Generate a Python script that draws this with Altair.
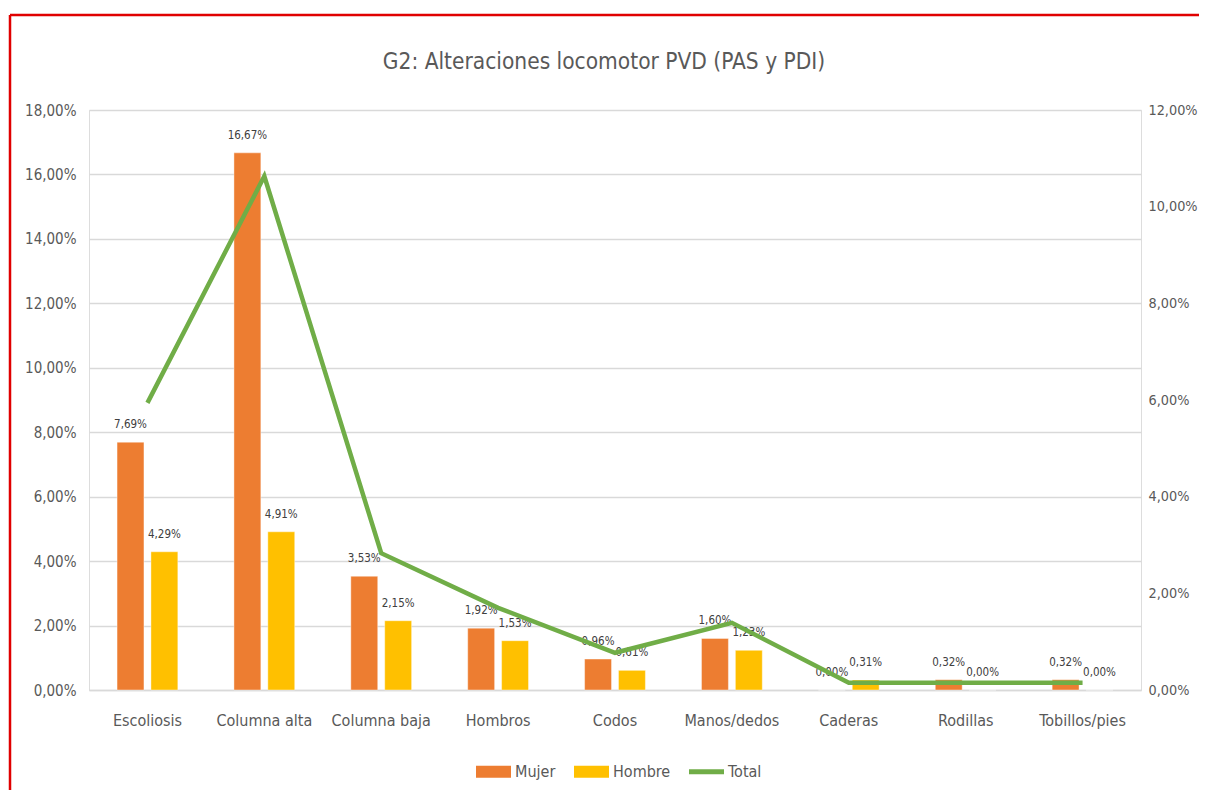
import altair as alt
import pandas as pd

categories = ["Escoliosis", "Columna alta", "Columna baja", "Hombros", "Codos",
              "Manos/dedos", "Caderas", "Rodillas", "Tobillos/pies"]
mujer = [7.69, 16.67, 3.53, 1.92, 0.96, 1.60, 0.00, 0.32, 0.32]
hombre = [4.29, 4.91, 2.15, 1.53, 0.61, 1.23, 0.31, 0.00, 0.00]
total = [5.94, 10.63, 2.83, 1.70, 0.77, 1.39, 0.15, 0.15, 0.15]

series = ["Mujer", "Hombre", "Total"]
colors = ["#ED7D31", "#FFC000", "#70AD47"]
title_text = "G2: Alteraciones locomotor PVD (PAS y PDI)"

FONT = "Liberation Sans Narrow, DejaVu Sans Condensed, sans-serif"
GREY = "#595959"

rows = []
for i, c in enumerate(categories):
    rows.append({"cat": c, "serie": "Mujer", "value": mujer[i]})
    rows.append({"cat": c, "serie": "Hombre", "value": hombre[i]})
bars_df = pd.DataFrame(rows)
total_df = pd.DataFrame({"cat": categories, "serie": "Total", "value": total})

pct = "replace(format(datum.value, '.2f'), '.', ',') + '%'"

xenc = alt.X("cat:N", sort=categories, title=None,
             scale=alt.Scale(paddingInner=0.48, paddingOuter=0.24),
             axis=alt.Axis(labelAngle=0, labelFontSize=16, labelColor=GREY, labelFont=FONT,
                           ticks=False, labelPadding=22, domainColor="#D9D9D9", domainWidth=1.5))

legend = alt.Legend(
    title=None, orient="none", direction="horizontal", legendX=387, legendY=644,
    labelFontSize=16, labelColor=GREY, labelFont=FONT, columnPadding=18, labelOffset=4,
    symbolSize=1225,
    symbolType=alt.ExprRef("datum.value === 'Total' ? 'M-1,-0.14H1V0.14H-1Z' : 'M-1,-0.34H1V0.34H-1Z'"),
    symbolFillColor=alt.ExprRef("scale('color', datum.value)"),
    symbolStrokeWidth=0,
    symbolOpacity=1,
)
color = alt.Color("serie:N", scale=alt.Scale(domain=series, range=colors), legend=legend)

yleft = alt.Y("value:Q", title=None,
              scale=alt.Scale(domain=[0, 18], nice=False),
              axis=alt.Axis(values=list(range(0, 19, 2)), labelExpr=pct, labelFontSize=15,
                            labelColor=GREY, labelFont=FONT, ticks=False, domain=False,
                            labelPadding=13, gridColor="#D9D9D9", gridWidth=1.3))

bars = alt.Chart(bars_df).mark_bar(stroke="white", strokeOpacity=0.4, strokeWidth=1).encode(
    x=xenc,
    xOffset=alt.XOffset("serie:N", sort=["Mujer", "Hombre"],
                        scale=alt.Scale(paddingInner=0.206, paddingOuter=0)),
    y=yleft,
    color=color,
)

labels = alt.Chart(bars_df).transform_calculate(lbl=pct).mark_text(
    fontSize=11.5, font=FONT, color="#404040", baseline="alphabetic", dy=-14
).encode(
    x=alt.X("cat:N", sort=categories),
    xOffset=alt.XOffset("serie:N", sort=["Mujer", "Hombre"]),
    y=alt.Y("value:Q"),
    text="lbl:N",
)

border_df = pd.DataFrame({"k": [0]})
top_border = alt.Chart(border_df).mark_rule(color="#E00000", strokeWidth=2.5).encode(
    x=alt.value(-79), x2=alt.value(1200), y=alt.value(-95))
left_border = alt.Chart(border_df).mark_rule(color="#E00000", strokeWidth=2.5).encode(
    x=alt.value(-79), y=alt.value(-95), y2=alt.value(700))
title_mark = alt.Chart(pd.DataFrame({"t": [title_text]})).mark_text(
    fontSize=22.5, font=FONT, color=GREY, align="center", baseline="middle"
).encode(x=alt.value(515), y=alt.value(-48), text="t:N")

left_layer = alt.layer(bars, labels, top_border, left_border, title_mark)

line = alt.Chart(total_df).mark_line(strokeWidth=4.5).encode(
    x=alt.X("cat:N", sort=categories),
    y=alt.Y("value:Q", title=None,
            scale=alt.Scale(domain=[0, 12], nice=False),
            axis=alt.Axis(orient="right", values=list(range(0, 13, 2)), labelExpr=pct,
                          labelFontSize=14.3, labelColor=GREY, labelFont=FONT, ticks=False,
                          domain=False, grid=False, labelPadding=7)),
    color=color,
)

chart = alt.layer(left_layer, line).resolve_scale(y="independent").properties(
    width=1052, height=580,
    autosize=alt.AutoSizeParams(type="none"),
    padding={"left": 81, "top": 102, "right": 58, "bottom": 100},
).configure_view(strokeWidth=0, stroke="transparent").configure(background="white")

chart.save("out.html", embed_options={"renderer": "svg", "actions": False})
